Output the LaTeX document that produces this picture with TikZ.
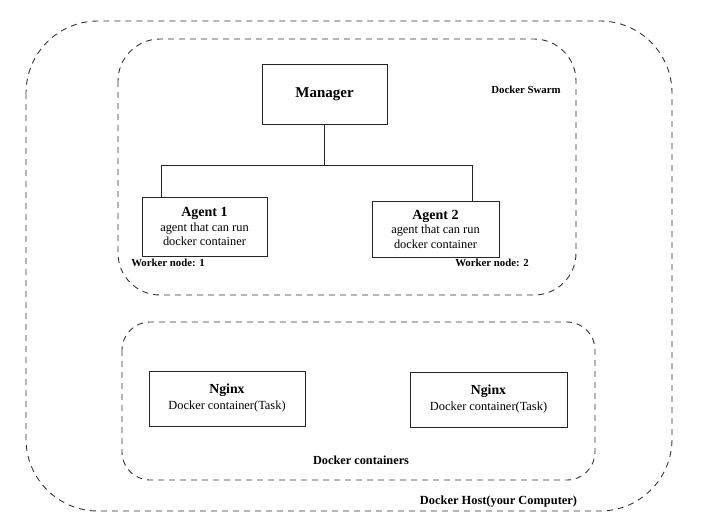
\documentclass[tikz,border=0pt]{standalone}
\usepackage{fontspec}
\setmainfont{Liberation Serif}
\begin{document}
\begin{tikzpicture}[x=1pt,y=-1pt,
  dbox/.style={draw=black!80, line width=0.9pt, dash pattern=on 6pt off 5pt},
  sbox/.style={draw=black!85, line width=0.8pt, align=center, inner sep=0pt},
  conn/.style={draw=black!85, line width=0.8pt},
  lbl/.style={inner sep=0pt, font=\bfseries\fontsize{10.8}{12}\selectfont},
]
\useasboundingbox (0,0) rectangle (701,520);
% dashed groups
\draw[dbox, rounded corners=72pt] (26,21) rectangle (672,511);
\draw[dbox, rounded corners=42pt] (118,39) rectangle (576,295);
\draw[dbox, rounded corners=28pt] (122,322) rectangle (595,480);
% boxes
\node[sbox, minimum width=125pt, minimum height=60pt, font=\bfseries\fontsize{15}{17}\selectfont] (mgr) at (324.5,94)
  {Manager};
\node[sbox, minimum width=125pt, minimum height=59pt, font=\fontsize{12.4}{14.5}\selectfont] (a1) at (204.5,226.5)
  {{\bfseries\fontsize{14}{14.5}\selectfont Agent 1}\\agent that can run\\docker container};
\node[sbox, minimum width=127pt, minimum height=56pt, font=\fontsize{12.4}{14.5}\selectfont] (a2) at (435.5,229)
  {{\bfseries\fontsize{14}{14.5}\selectfont Agent 2}\\agent that can run\\docker container};
\node[sbox, minimum width=156pt, minimum height=55pt, font=\fontsize{12.4}{16}\selectfont] (n1) at (227,398.5)
  {{\bfseries\fontsize{13.8}{16}\selectfont Nginx}\\Docker container(Task)};
\node[sbox, minimum width=157pt, minimum height=55pt, font=\fontsize{12.4}{16}\selectfont] (n2) at (488.5,399.5)
  {{\bfseries\fontsize{13.8}{16}\selectfont Nginx}\\Docker container(Task)};
% connectors
\coordinate (j) at (mgr.south |- 0,165);
\coordinate (jl) at (161,165);
\coordinate (jr) at (472,165);
\draw[conn] (mgr.south) -- (j);
\draw[conn] (jl) -- (jr);
\draw[conn] (jl) -- (jl |- a1.north);
\draw[conn] (jr) -- (jr |- a2.north);
% labels
\node[lbl] (swarm) at (526,90) {Docker Swarm};
\node[lbl] (w1) at (168,263) {Worker node: 1};
\node[lbl] (w2) at (492,263) {Worker node: 2};
\node[lbl, font=\bfseries\fontsize{12.3}{14}\selectfont] (dc) at (361,460) {Docker containers};
\node[lbl, font=\bfseries\fontsize{12.4}{14}\selectfont] (dh) at (498.5,502) {Docker Host(your Computer)};
\end{tikzpicture}
\end{document}
